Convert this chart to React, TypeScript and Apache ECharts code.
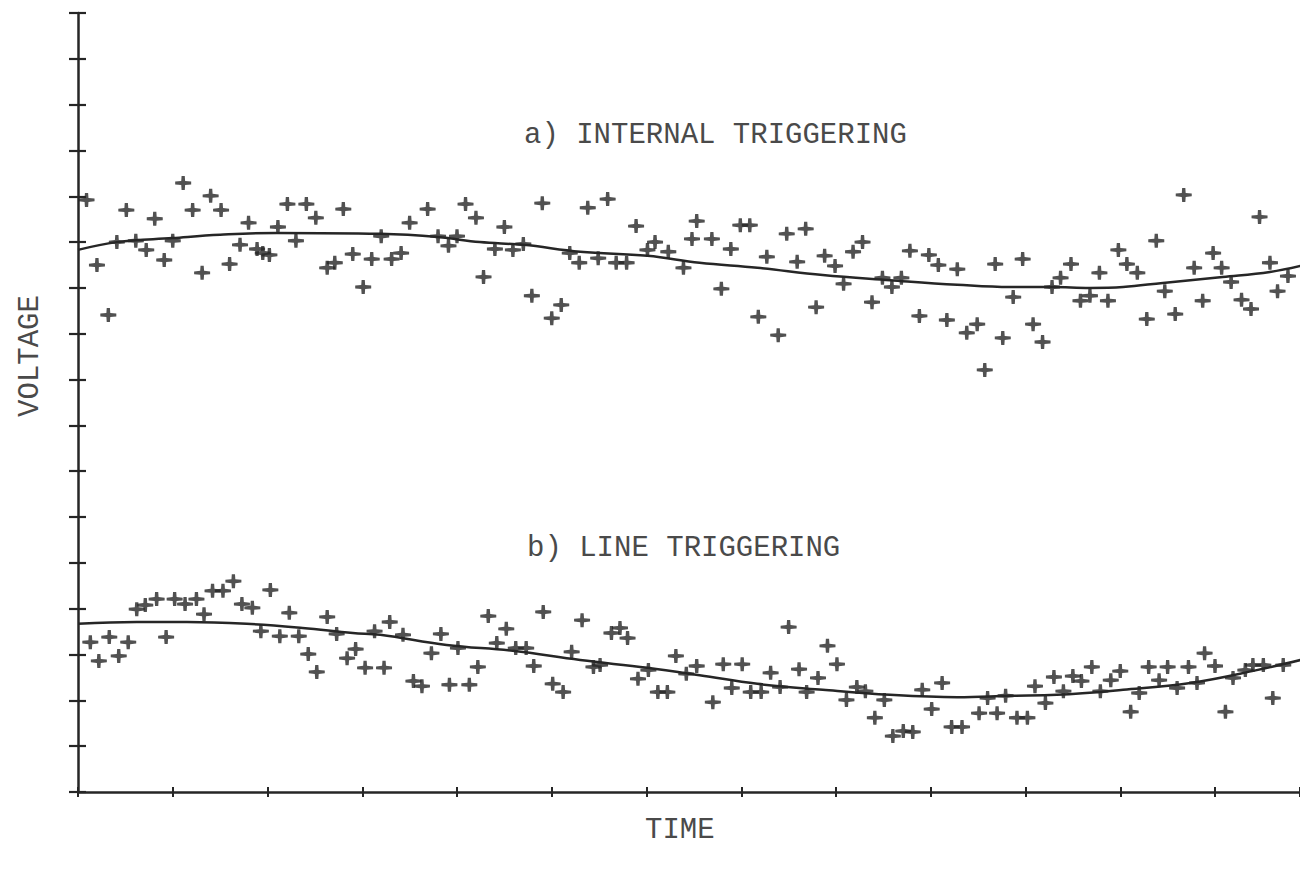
import React, { useEffect, useRef } from "react";
import * as echarts from "echarts";

// ---- Data (time in x-tick units, voltage in y-tick units) ----
const titleA = "a) INTERNAL TRIGGERING";
const titleB = "b) LINE TRIGGERING";
const yName = "VOLTAGE";
const xName = "TIME";

const aTime = [0.09,1.11,1.40,0.51,1.21,1.51,0.81,1.80,2.11,2.21,2.41,2.51,2.80,0.41,0.61,0.72,1.00,0.20,0.91,1.31,1.60,1.71,1.89,1.95,2.02,2.30,2.63,2.71,2.90,3.10,3.01,0.32,3.20,3.31,3.41,3.50,3.69,4.09,4.20,3.80,4.00,3.91,4.50,4.90,5.38,5.59,5.89,6.53,6.48,4.40,4.59,4.70,4.28,4.79,5.10,5.00,5.19,5.29,5.49,5.68,5.79,6.01,6.09,6.23,6.39,6.69,6.89,6.99,7.09,7.48,7.68,7.27,7.59,7.88,7.99,8.18,8.28,8.08,8.49,8.59,8.69,8.38,8.78,8.98,9.08,9.28,9.68,6.79,7.18,7.39,7.79,8.88,9.17,9.49,9.38,9.76,9.57,9.87,9.97,10.48,10.37,10.28,10.78,10.98,11.07,11.18,11.38,11.67,11.98,11.78,12.07,12.47,12.58,12.77,12.66,10.58,10.68,10.87,11.47,12.17,11.87,12.28,12.38,11.28,11.58,10.08,10.18];
const aVoltage = [12.92,13.29,13.01,12.70,12.70,12.70,12.51,12.42,12.33,12.83,12.83,12.53,12.72,12.00,12.03,11.83,12.03,11.50,11.61,11.33,11.52,11.94,11.85,11.76,11.72,12.03,11.44,11.55,11.74,11.63,11.02,10.41,12.13,11.63,11.76,12.42,12.72,12.83,12.53,12.13,12.13,11.92,12.33,12.85,12.75,12.94,12.35,12.46,12.07,11.85,11.83,11.96,11.24,10.83,10.63,10.34,11.76,11.55,11.65,11.55,11.55,11.83,12.00,11.79,11.44,12.07,11.85,12.37,12.37,12.18,12.29,11.68,11.57,11.70,11.48,11.79,12.00,11.09,11.22,11.02,11.22,10.69,11.81,11.72,11.50,11.41,11.52,10.98,10.37,9.97,10.58,10.39,10.30,10.21,10.02,9.91,9.21,10.80,11.63,11.52,11.22,11.02,11.33,11.83,11.52,11.33,12.03,13.03,11.76,11.44,11.44,12.55,11.55,11.26,10.93,10.72,10.83,10.72,10.93,11.13,10.72,10.74,10.54,10.32,10.43,10.21,9.82];

const bTime = [0.13,0.22,0.33,0.43,0.53,0.62,0.71,0.83,1.02,1.13,1.25,0.93,1.33,1.42,1.53,1.64,1.73,1.84,2.03,2.23,2.63,1.93,2.13,2.33,2.43,2.52,2.73,2.84,2.93,3.03,3.13,3.23,3.29,3.43,3.54,3.63,3.73,3.83,3.92,4.01,4.13,4.22,4.33,4.42,4.52,4.62,4.73,4.81,4.91,5.01,5.12,5.21,5.32,5.44,5.51,5.63,5.72,5.80,5.91,6.02,6.12,6.22,6.31,6.42,6.53,6.81,7.01,6.70,6.90,7.10,7.21,7.31,7.41,7.50,7.61,7.69,7.81,7.91,8.01,8.11,8.22,8.31,8.41,8.51,8.60,8.71,8.81,8.91,9.01,9.12,9.22,9.33,9.51,9.60,9.70,9.79,9.91,10.02,10.10,10.21,10.30,10.40,10.50,10.59,10.70,10.79,10.90,11.00,11.11,11.20,11.30,11.41,11.50,11.60,11.72,11.81,11.89,12.00,12.11,12.19,12.32,12.40,12.51,12.61,12.72];
const bVoltage = [3.27,2.86,3.38,2.97,3.27,3.99,4.08,4.21,4.21,4.10,4.21,3.38,3.88,4.39,4.39,4.60,4.10,4.02,4.41,3.91,3.82,3.51,3.40,3.40,3.01,2.62,3.45,2.92,3.12,2.71,3.51,2.71,3.71,3.43,2.42,2.31,3.03,3.45,2.34,3.14,2.34,2.73,3.84,3.25,3.56,3.14,3.14,2.75,3.93,2.36,2.18,3.06,3.75,2.73,2.77,3.47,3.58,3.36,2.47,2.66,2.18,2.18,2.97,2.58,2.75,2.79,2.79,1.96,2.27,2.18,2.18,2.60,2.29,3.60,2.68,2.18,2.49,3.19,2.79,2.01,2.29,2.20,1.62,2.01,1.22,1.33,1.31,2.23,1.81,2.38,1.42,1.42,1.72,2.05,1.72,2.10,1.62,1.62,2.31,1.94,2.51,2.20,2.53,2.42,2.73,2.20,2.44,2.64,1.75,2.16,2.73,2.44,2.73,2.27,2.73,2.38,3.03,2.75,1.75,2.49,2.66,2.77,2.77,2.05,2.77];

const fitTimeA = [0,0.41,1.00,1.50,2.10,3.19,3.80,4.24,4.70,5.30,6.01,6.56,7.17,7.86,8.57,9.28,9.84,10.28,10.68,11.03,11.45,12.08,12.58,12.90];
const fitA = [11.83,12.00,12.09,12.16,12.20,12.18,12.11,12.00,11.94,11.79,11.70,11.55,11.44,11.28,11.17,11.07,11.02,11.02,11.00,11.02,11.11,11.24,11.35,11.48];
const fitTimeB = [0,0.62,1.15,1.78,2.37,2.90,3.19,3.89,4.59,5.30,6.01,6.56,7.17,7.86,8.57,9.28,9.84,10.33,11.03,11.74,12.44,12.90];
const fitB = [3.67,3.71,3.71,3.67,3.58,3.47,3.43,3.21,3.08,2.88,2.71,2.55,2.36,2.23,2.12,2.07,2.10,2.12,2.23,2.38,2.66,2.88];

const zip = (xs: number[], ys: number[]) => xs.map((x, i) => [x, ys[i]]);

const INK = "#262626";
const TEXT_INK = "#4a4a4a";
const FONT = "29px 'Liberation Mono', 'DejaVu Sans Mono', monospace";
const PLUS =
  "path://M0,5.6 L5.3,5 L5.6,0 L8.4,0 L8.7,5 L14,5.6 L14,8.4 L8.7,9 L8.4,14 L5.6,14 L5.3,9 L0,8.4 Z";

export default function App() {
  const ref = useRef<HTMLDivElement>(null);
  useEffect(() => {
    if (!ref.current) return;
    const chart = echarts.init(ref.current, null, { renderer: "svg" });
    const xMax = 12.897;
    const yMax = 17;
    const axisBase = {
      type: "value" as const,
      axisLabel: { show: false },
      splitLine: { show: false },
    };
    chart.setOption({
      animation: false,
      backgroundColor: "#ffffff",
      grid: { left: 78, right: 0, top: 13, bottom: 79, containLabel: false },
      xAxis: [
        {
          ...axisBase,
          min: 0,
          max: xMax,
          interval: 1,
          axisLine: { show: true, lineStyle: { color: INK, width: 2.5 } },
          axisTick: { show: true, inside: false, length: 5, lineStyle: { color: INK, width: 2 } },
        },
        {
          ...axisBase,
          position: "bottom",
          min: 0,
          max: xMax,
          interval: 1,
          axisLine: { show: false },
          axisTick: { show: true, inside: true, length: 5, lineStyle: { color: INK, width: 2 } },
        },
      ],
      yAxis: [
        {
          ...axisBase,
          min: 0,
          max: yMax,
          interval: 1,
          axisLine: { show: true, lineStyle: { color: INK, width: 2.5 } },
          axisTick: { show: true, inside: false, length: 9, lineStyle: { color: INK, width: 2.2 } },
        },
        {
          ...axisBase,
          position: "left",
          min: 0,
          max: yMax,
          interval: 1,
          axisLine: { show: false },
          axisTick: { show: true, inside: true, length: 8, lineStyle: { color: INK, width: 2.2 } },
        },
      ],
      series: [
        {
          type: "scatter",
          data: zip(aTime, aVoltage),
          symbol: PLUS,
          symbolSize: [16, 14],
          itemStyle: { color: INK },
        },
        {
          type: "scatter",
          data: zip(bTime, bVoltage),
          symbol: PLUS,
          symbolSize: [16, 14],
          itemStyle: { color: INK },
        },
        {
          type: "line",
          data: zip(fitTimeA, fitA),
          smooth: 0.4,
          showSymbol: false,
          lineStyle: { color: INK, width: 2.5 },
        },
        {
          type: "line",
          data: zip(fitTimeB, fitB),
          smooth: 0.4,
          showSymbol: false,
          lineStyle: { color: INK, width: 2.5 },
        },
      ],
      graphic: [
        {
          type: "text",
          left: 524,
          top: 121,
          style: { text: titleA, font: FONT, fill: TEXT_INK },
        },
        {
          type: "text",
          left: 527,
          top: 534,
          style: { text: titleB, font: FONT, fill: TEXT_INK },
        },
        {
          type: "text",
          left: 645,
          top: 816,
          style: { text: xName, font: FONT, fill: TEXT_INK },
        },
        {
          type: "text",
          x: 30,
          y: 356,
          rotation: Math.PI / 2,
          style: {
            text: yName,
            font: FONT,
            fill: TEXT_INK,
            align: "center",
            verticalAlign: "middle",
            textAlign: "center",
            textVerticalAlign: "middle",
          },
        },
      ],
    });
    return () => chart.dispose();
  }, []);
  return (
    <div
      ref={ref}
      style={{ position: "absolute", left: 0, top: 0, width: 1300, height: 871, background: "#fff" }}
    />
  );
}
